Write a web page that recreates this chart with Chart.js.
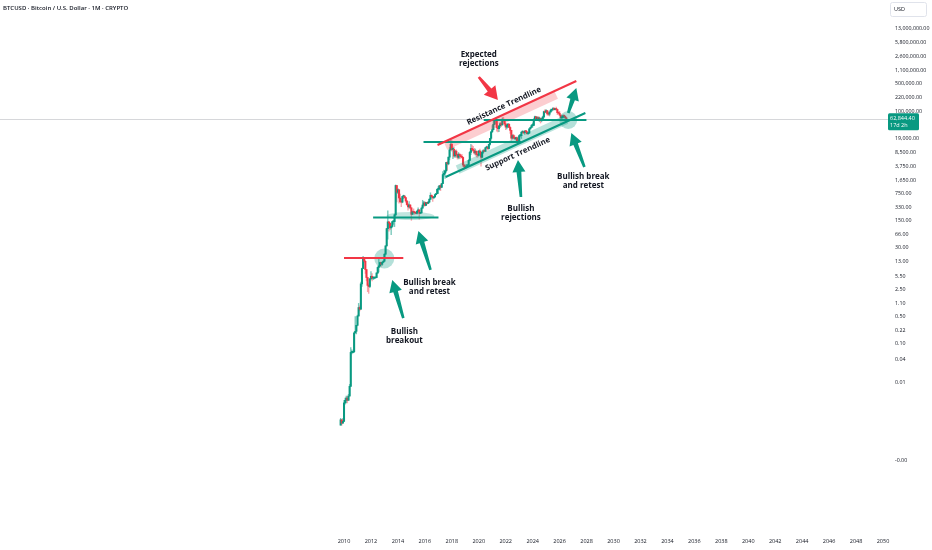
<!DOCTYPE html>
<html>
<head>
<meta charset="utf-8">
<script src="https://cdn.jsdelivr.net/npm/chart.js@4.4.1/dist/chart.umd.min.js"></script>
<style>
html, body { margin: 0; padding: 0; background: #ffffff; }
#wrap { width: 932px; height: 550px; }
</style>
</head>
<body>
<div id="wrap"><canvas id="btc" width="932" height="550"></canvas></div>
<script>
// monthly candles, first one is Oct 2009
var START_YEAR = 2009, START_MONTH = 9;
var FIRST_OPEN = 0.0008;

var closes = [
  0.0011, 0.0009, 0.0010,
  0.0030, 0.0035, 0.0040, 0.0035, 0.0045, 0.0080, 0.060, 0.060, 0.062, 0.19, 0.21, 0.30,
  0.52, 0.86, 0.78, 3.5, 8.7, 16.5, 13.4, 8.2, 5.1, 3.2, 3.0, 4.7,
  5.5, 4.9, 4.9, 5.0, 5.1, 6.7, 9.3, 10.2, 12.4, 11.2, 12.6, 13.5,
  20.4, 33.4, 93, 139, 129, 97, 106, 141, 141, 211, 1205, 805,
  938, 573, 458, 448, 628, 640, 586, 478, 387, 338, 378, 320,
  218, 254, 244, 236, 230, 263, 284, 230, 236, 314, 378, 430,
  369, 437, 416, 448, 531, 673, 624, 575, 609, 699, 743, 964,
  970, 1190, 1080, 1348, 2300, 2480, 2875, 4700, 4340, 6470, 10000, 13880,
  10220, 10330, 6930, 9240, 7490, 6390, 7730, 7030, 6630, 6370, 4040, 3740,
  3460, 3850, 4100, 5320, 8570, 10820, 10080, 9630, 8300, 9150, 7570, 7190,
  9350, 8540, 6420, 8630, 9460, 9140, 11350, 11680, 10780, 13800, 19700, 28990,
  33110, 45240, 58800, 57700, 37300, 35040, 41460, 47100, 43820, 61300, 57000, 46300,
  38480, 43190, 45540, 37710, 31790, 19930, 23300, 20050, 19430, 20490, 17170, 16550,
  23140, 23150, 28480, 29250, 27220, 30480, 29230, 25940, 26970, 34660, 37720, 42280,
  42580, 61180, 71330, 60640, 67500, 62680, 64620, 58970, 63330, 70220, 96450, 93430,
  102400, 84350, 82550, 94200, 104600, 107150, 115760, 108250, 114050, 109600, 90400, 87500,
  78600, 67000, 68500, 76000, 73500, 67000, 62844.4
];
var highs = [
  0.0012, 0.0011, 0.0012,
  0.0035, 0.004, 0.0045, 0.0045, 0.005, 0.009, 0.08, 0.07, 0.065, 0.20, 0.50, 0.30,
  0.55, 1.1, 0.95, 3.9, 8.9, 18, 16.5, 14, 8.2, 5.2, 3.5, 4.9,
  7.3, 6.5, 5.4, 5.3, 5.2, 6.8, 9.6, 15.4, 12.5, 12.9, 12.7, 13.7,
  21, 33.7, 95, 266, 140, 130, 110, 141, 145, 220, 1242, 1156,
  1000, 900, 720, 550, 630, 680, 660, 600, 500, 420, 460, 390,
  320, 265, 300, 260, 245, 268, 318, 285, 245, 335, 500, 470,
  460, 440, 440, 470, 550, 780, 690, 615, 630, 720, 755, 975,
  1150, 1200, 1300, 1350, 2760, 3000, 2920, 4760, 5000, 6480, 11400, 19800,
  17200, 11800, 11700, 9750, 9950, 7760, 8500, 7760, 7400, 7680, 6560, 4300,
  4100, 4200, 4150, 5600, 9100, 13880, 13200, 12330, 10950, 10500, 9500, 7750,
  9580, 10500, 9200, 9470, 10070, 10500, 11450, 12480, 12050, 14100, 19900, 29300,
  41900, 58300, 61800, 64900, 59600, 41300, 42300, 50500, 52900, 67000, 69000, 59100,
  47900, 45800, 48100, 47400, 39900, 31900, 24700, 25200, 22800, 21000, 21500, 18400,
  23900, 25200, 29200, 31000, 29800, 31400, 31800, 30200, 27500, 35200, 38400, 44700,
  48900, 64000, 73800, 72700, 71900, 71900, 70000, 65000, 66500, 73600, 99600, 108300,
  109300, 102500, 95000, 95700, 111900, 110500, 123200, 124400, 117900, 126200, 111000, 94600,
  97900, 79000, 72000, 79500, 78500, 74500, 68500
];
var lows = [
  0.0008, 0.0008, 0.0009,
  0.0010, 0.0028, 0.003, 0.003, 0.0035, 0.0045, 0.008, 0.055, 0.058, 0.06, 0.19, 0.18,
  0.29, 0.52, 0.70, 0.77, 3.0, 8.7, 12.5, 6.5, 4.2, 2.2, 2.0, 2.8,
  4.6, 4.2, 4.5, 4.7, 4.9, 5.1, 6.4, 7.1, 9.8, 9.9, 10.4, 12.4,
  13, 19.4, 33, 50, 80, 88, 65, 101, 120, 105, 198, 455,
  740, 420, 440, 340, 430, 550, 570, 440, 370, 280, 315, 300,
  152, 213, 235, 215, 225, 220, 253, 162, 225, 235, 310, 352,
  350, 368, 397, 412, 440, 525, 600, 465, 570, 605, 690, 740,
  750, 920, 890, 1060, 1340, 2100, 1840, 2670, 2980, 4100, 5500, 9600,
  9200, 5900, 6500, 6400, 7000, 5750, 5830, 5880, 6100, 6200, 3650, 3150,
  3350, 3400, 3670, 4070, 5330, 7440, 9100, 9320, 7700, 7300, 6500, 6420,
  6850, 8450, 3800, 6150, 8100, 8900, 8990, 10950, 9820, 10400, 13200, 17600,
  28100, 32400, 45000, 47000, 30000, 28800, 29300, 37300, 39600, 43300, 53300, 42000,
  32900, 34300, 37200, 37600, 26600, 17600, 18800, 19600, 18200, 18100, 15500, 16300,
  16500, 21400, 19600, 26900, 25800, 24800, 28900, 25200, 24900, 26600, 34100, 37600,
  38500, 41900, 59000, 59200, 56600, 58600, 53500, 49100, 52600, 58900, 66800, 90500,
  89200, 78200, 76600, 74500, 93400, 98200, 105100, 107300, 107300, 103500, 80600, 84400,
  74500, 60000, 62500, 67000, 70000, 65500, 61500
];

var yearTicks = [2010, 2012, 2014, 2016, 2018, 2020, 2022, 2024, 2026, 2028, 2030,
  2032, 2034, 2036, 2038, 2040, 2042, 2044, 2046, 2048, 2050];
var priceTicks = [13000000, 5800000, 2600000, 1100000, 500000, 220000, 100000, 19000, 8500,
  3750, 1650, 750, 330, 150, 66, 30, 13, 5.5, 2.5, 1.1, 0.5, 0.22, 0.1, 0.04, 0.01, 0.0001];
var priceLabels = ["13,000,000.00", "5,800,000.00", "2,600,000.00", "1,100,000.00", "500,000.00",
  "220,000.00", "100,000.00", "19,000.00", "8,500.00", "3,750.00", "1,650.00", "750.00", "330.00",
  "150.00", "66.00", "30.00", "13.00", "5.50", "2.50", "1.10", "0.50", "0.22", "0.10", "0.04",
  "0.01", "-0.00"];

var lastPriceText = "62,844.40";
var countdownText = "17d 2h";
var titleText = "BTCUSD \u00b7 Bitcoin / U.S. Dollar \u00b7 1M \u00b7 CRYPTO";

var UP = "#089981", DOWN = "#F23645";
var TEAL = "#089981", RED = "#F23645", INK = "#131722";

// drawings, in (year, price) coordinates
var hLines = [
  {x1: 2010.0, x2: 2014.40, p: 16.3, color: RED},
  {x1: 2012.16, x2: 2017.01, p: 180, color: TEAL},
  {x1: 2015.90, x2: 2023.13, p: 15900, color: TEAL},
  {x1: 2020.37, x2: 2027.99, p: 58600, color: TEAL}
];
var bands = [
  {x1: 2017.54, p1: 12500, x2: 2025.75, p2: 258000, color: "rgba(242,54,69,0.25)", w: 8},
  {x1: 2018.43, p1: 3100, x2: 2026.49, p2: 59700, color: "rgba(8,153,129,0.28)", w: 9}
];
var trendLines = [
  {x1: 2016.94, p1: 13300, x2: 2027.24, p2: 593000, color: RED, text: "Resistance Trendline", tx: 2021.87, tp: 134600},
  {x1: 2017.54, p1: 1990, x2: 2027.91, p2: 88800, color: TEAL, text: "Support Trendline", tx: 2022.89, tp: 7800}
];
var circles = [
  {x: 2012.99, p: 15.8, r: 10},
  {x: 2026.64, p: 58600, r: 9}
];
var ellipses = [
  {x: 2014.93, p: 197, rx: 24, ry: 4}
];
var arrows = [
  {x1: 2014.40, p1: 0.46, x2: 2013.58, p2: 4.4, color: TEAL},
  {x1: 2016.42, p1: 8.0, x2: 2015.52, p2: 80.7, color: TEAL},
  {x1: 2023.13, p1: 608, x2: 2022.91, p2: 5460, color: TEAL},
  {x1: 2027.84, p1: 3600, x2: 2026.87, p2: 27100, color: TEAL},
  {x1: 2026.64, p1: 88800, x2: 2027.24, p2: 392000, color: TEAL},
  {x1: 2020.0, p1: 752000, x2: 2021.42, p2: 192000, color: RED}
];
var notes = [
  {x: 2014.48, p: 0.159, lines: ["Bullish", "breakout"]},
  {x: 2016.34, p: 2.91, lines: ["Bullish break", "and retest"]},
  {x: 2023.13, p: 235, lines: ["Bullish", "rejections"]},
  {x: 2027.76, p: 1520, lines: ["Bullish break", "and retest"]},
  {x: 2020.0, p: 2120000, lines: ["Expected", "rejections"]}
];

var bodies = [], wicks = [], bodyColors = [], wickColors = [];
var open = FIRST_OPEN;
for (var i = 0; i < closes.length; i++) {
  var t = START_YEAR + (START_MONTH + i) / 12;
  var c = closes[i];
  var up = c >= open;
  bodies.push({x: t, y: [open, c]});
  wicks.push({x: t, y: [lows[i], highs[i]]});
  bodyColors.push(up ? UP : DOWN);
  wickColors.push(up ? "rgba(8,153,129,0.55)" : "rgba(242,54,69,0.45)");
  open = c;
}
var lastClose = closes[closes.length - 1];

function pt(chart, x, p) {
  return [chart.scales.x.getPixelForValue(x), chart.scales.y.getPixelForValue(p)];
}

function drawArrow(ctx, a, b, color, headLen, headHalf) {
  var dx = b[0] - a[0], dy = b[1] - a[1];
  var L = Math.sqrt(dx * dx + dy * dy);
  ctx.save();
  ctx.translate(a[0], a[1]);
  ctx.rotate(Math.atan2(dy, dx));
  ctx.beginPath();
  ctx.moveTo(0, -1.3);
  ctx.lineTo(L - headLen, -2.4);
  ctx.lineTo(L - headLen, -headHalf);
  ctx.lineTo(L, 0);
  ctx.lineTo(L - headLen, headHalf);
  ctx.lineTo(L - headLen, 2.4);
  ctx.lineTo(0, 1.3);
  ctx.closePath();
  ctx.fillStyle = color;
  ctx.fill();
  ctx.restore();
}

function noPadding(scale) {
  scale.paddingTop = 0;
  scale.paddingBottom = 0;
  scale.paddingLeft = 0;
  scale.paddingRight = 0;
}

var priceLinePlugin = {
  id: "priceLine",
  beforeDatasetsDraw: function(chart) {
    var ctx = chart.ctx, area = chart.chartArea;
    var y = chart.scales.y.getPixelForValue(lastClose);
    ctx.save();
    ctx.strokeStyle = "rgba(120,123,134,0.3)";
    ctx.lineWidth = 1;
    ctx.beginPath();
    ctx.moveTo(area.left, Math.round(y) + 0.5);
    ctx.lineTo(area.right, Math.round(y) + 0.5);
    ctx.stroke();
    ctx.restore();
  }
};

var drawingsPlugin = {
  id: "drawings",
  afterDatasetsDraw: function(chart) {
    var ctx = chart.ctx;
    ctx.save();
    ctx.lineCap = "butt";

    bands.forEach(function(b) {
      var a = pt(chart, b.x1, b.p1), e = pt(chart, b.x2, b.p2);
      ctx.strokeStyle = b.color;
      ctx.lineWidth = b.w;
      ctx.beginPath(); ctx.moveTo(a[0], a[1]); ctx.lineTo(e[0], e[1]); ctx.stroke();
    });

    circles.forEach(function(c) {
      var p = pt(chart, c.x, c.p);
      ctx.fillStyle = "rgba(8,153,129,0.3)";
      ctx.beginPath(); ctx.arc(p[0], p[1], c.r, 0, Math.PI * 2); ctx.fill();
    });
    ellipses.forEach(function(c) {
      var p = pt(chart, c.x, c.p);
      ctx.fillStyle = "rgba(8,153,129,0.25)";
      ctx.beginPath(); ctx.ellipse(p[0], p[1], c.rx, c.ry, 0, 0, Math.PI * 2); ctx.fill();
    });

    hLines.forEach(function(l) {
      var a = pt(chart, l.x1, l.p), e = pt(chart, l.x2, l.p);
      ctx.strokeStyle = l.color;
      ctx.lineWidth = 2;
      ctx.beginPath(); ctx.moveTo(a[0], a[1]); ctx.lineTo(e[0], a[1]); ctx.stroke();
    });

    trendLines.forEach(function(l) {
      var a = pt(chart, l.x1, l.p1), e = pt(chart, l.x2, l.p2);
      ctx.strokeStyle = l.color;
      ctx.lineWidth = 2;
      ctx.beginPath(); ctx.moveTo(a[0], a[1]); ctx.lineTo(e[0], e[1]); ctx.stroke();
      var ang = Math.atan2(e[1] - a[1], e[0] - a[0]);
      var tp = pt(chart, l.tx, l.tp);
      ctx.save();
      ctx.translate(tp[0], tp[1]);
      ctx.rotate(ang);
      ctx.fillStyle = INK;
      ctx.font = '700 7.8px "Open Sans", sans-serif';
      ctx.textAlign = "center";
      ctx.textBaseline = "middle";
      ctx.fillText(l.text, 0, 0);
      ctx.restore();
    });

    arrows.forEach(function(r) {
      var a = pt(chart, r.x1, r.p1), e = pt(chart, r.x2, r.p2);
      if (r.color === RED) drawArrow(ctx, a, e, r.color, 13, 7.5);
      else drawArrow(ctx, a, e, r.color, 12, 6.5);
    });

    ctx.fillStyle = INK;
    ctx.font = '700 8px "Open Sans", sans-serif';
    ctx.textAlign = "center";
    ctx.textBaseline = "middle";
    notes.forEach(function(n) {
      var p = pt(chart, n.x, n.p);
      var top = p[1] - (n.lines.length - 1) * 4.5;
      n.lines.forEach(function(s, k) { ctx.fillText(s, p[0], top + k * 9); });
    });
    ctx.restore();
  },
  afterDraw: function(chart) {
    var ctx = chart.ctx;
    var y = chart.scales.y.getPixelForValue(lastClose);
    ctx.save();
    // header
    ctx.fillStyle = INK;
    ctx.font = '600 6px "Open Sans", sans-serif';
    ctx.textAlign = "left";
    ctx.textBaseline = "middle";
    ctx.fillText(titleText, 3, 8);
    // currency box
    ctx.strokeStyle = "#e0e3eb";
    ctx.lineWidth = 1;
    ctx.beginPath();
    ctx.roundRect(890.5, 2.5, 36, 14, 2);
    ctx.stroke();
    ctx.fillStyle = INK;
    ctx.font = '5.5px "Open Sans", sans-serif';
    ctx.fillText("USD", 894, 9.5);
    // last price label
    ctx.fillStyle = UP;
    ctx.beginPath();
    ctx.roundRect(888, y - 5.5, 31, 17, 1.5);
    ctx.fill();
    ctx.fillStyle = "#ffffff";
    ctx.font = '5.5px "Open Sans", sans-serif';
    ctx.fillText(lastPriceText, 890, y);
    ctx.fillText(countdownText, 890, y + 7);
    ctx.restore();
  }
};

Chart.defaults.font.family = '"Open Sans", sans-serif';

new Chart(document.getElementById("btc").getContext("2d"), {
  type: "bar",
  data: {
    datasets: [{
      label: "body",
      data: bodies,
      backgroundColor: bodyColors,
      barThickness: 1.4,
      minBarLength: 1,
      grouped: false,
      order: 1
    }, {
      label: "wick",
      data: wicks,
      backgroundColor: wickColors,
      barThickness: 0.7,
      grouped: false,
      order: 2
    }]
  },
  options: {
    responsive: false,
    animation: false,
    layout: { padding: 0 },
    plugins: {
      legend: { display: false },
      tooltip: { enabled: false },
      title: { display: false }
    },
    scales: {
      x: {
        type: "linear",
        offset: false,
        min: 1984.47,
        max: 2050.37,
        grid: { display: false, drawTicks: false },
        border: { display: false },
        afterBuildTicks: function(scale) {
          scale.ticks = yearTicks.map(function(v) { return {value: v}; });
        },
        afterFit: function(scale) { scale.height = 20; noPadding(scale); },
        ticks: {
          autoSkip: false,
          maxRotation: 0,
          padding: 8,
          color: INK,
          font: { size: 5.5 },
          callback: function(v) { return String(v); }
        }
      },
      y: {
        type: "logarithmic",
        position: "right",
        min: 1.589e-6,
        max: 7.26e7,
        grid: { display: false, drawTicks: false },
        border: { display: false },
        afterBuildTicks: function(scale) {
          scale.ticks = priceTicks.map(function(v) { return {value: v}; });
        },
        afterFit: function(scale) { scale.width = 44; noPadding(scale); },
        ticks: {
          autoSkip: false,
          padding: 7,
          color: INK,
          font: { size: 5.3 },
          callback: function(v) {
            var k = priceTicks.indexOf(v);
            return k >= 0 ? priceLabels[k] : "";
          }
        }
      }
    }
  },
  plugins: [priceLinePlugin, drawingsPlugin]
});
</script>
</body>
</html>
